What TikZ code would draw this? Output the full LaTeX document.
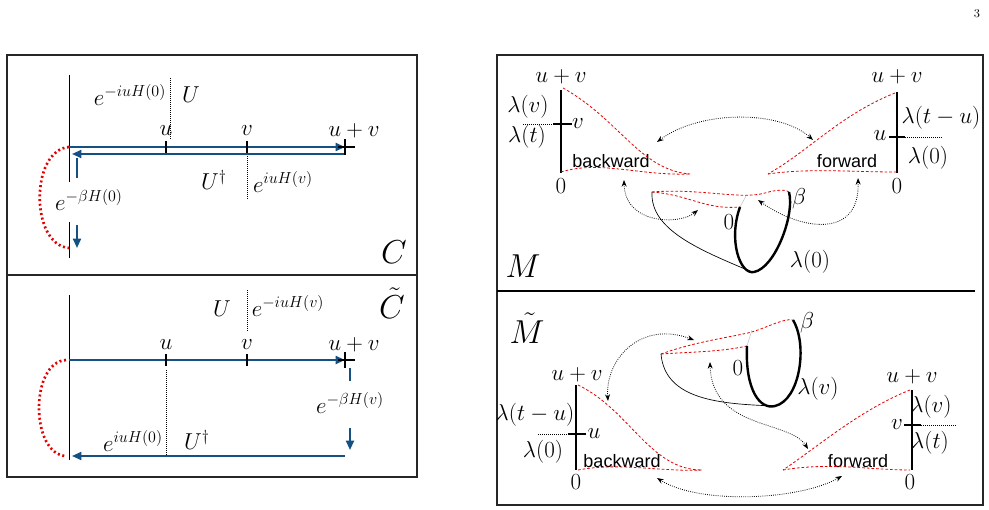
\documentclass[tikz,border=0pt]{standalone}
\usepackage{fontspec}
\newfontfamily\labsf{Liberation Sans}
\usetikzlibrary{arrows.meta}
\begin{document}
\begin{tikzpicture}[x=0.75pt,y=-0.75pt,
  bx/.style={draw=black!85,line width=1pt},
  blu/.style={draw={rgb,255:red,20;green,80;blue,130},line width=1.4pt},
  bar/.style={-{Triangle[length=7pt,width=6pt]}},
  tk/.style={line width=1.6pt},
  rdot/.style={draw=red!90!black,line width=2pt,dash pattern=on 1.5pt off 2pt},
  rdash/.style={draw=red!90!black,line width=0.6pt,dash pattern=on 2pt off 1.5pt},
  dt/.style={densely dotted,line width=0.5pt},
  darr/.style={densely dotted,line width=0.6pt,{Stealth[length=5pt]}-{Stealth[length=5pt]}},
  lbl/.style={inner sep=1pt,font=\fontsize{17}{19}\selectfont},
  big/.style={inner sep=0pt,font=\fontsize{27}{29}\selectfont},
  sf/.style={inner sep=1pt,font=\labsf\fontsize{13.5}{15}\selectfont}]
\useasboundingbox (0,0) rectangle (989,510);
\node[inner sep=1pt,font=\small] (pg) at (977,14) {3};
% ---------- left panel ----------
\draw[bx] (7,55) rectangle (417,477);
\draw[bx] (7,275) -- (417,275);
% C
\draw (69,75) -- (69,182); \draw (69,222) -- (69,258);
\coordinate (a0) at (69,147); \coordinate (a1) at (345,147);
\coordinate (b0) at (345,154); \coordinate (b1) at (72,154);
\coordinate (a2) at (69,248);
\draw[blu,bar] (a0) -- (a1);
\draw[blu,bar] (345,147) -- (b0) -- (b1);
\draw[blu] (77,158) -- (77,178);
\draw[blu,bar] (77,225) -- (77,248);
\draw[tk] (166,141) -- (166,153); \draw[tk] (247,141) -- (247,153);
\draw[thick] (345,139) -- (345,155); \draw[thick] (338,147) -- (355,147);
\draw[rdot] (a0) .. controls (30,150) and (30,245) .. (a2);
\draw[dt] (170,78) -- (170,140); \draw[dt] (247,156) -- (247,200);
\node[lbl] (n1) at (130,95) {$e^{-iuH(0)}$};
\node[lbl] (n2) at (191,95) {$U$};
\node[lbl] (n3) at (166,131) {$u$};
\node[lbl] (n4) at (247,131) {$v$};
\node[lbl] (n5) at (354,131) {$u+v$};
\node[lbl] (n6) at (214,180) {$U^\dagger$};
\node[lbl] (n7) at (283,182) {$e^{iuH(v)}$};
\node[lbl] (n8) at (89,200) {$e^{-\beta H(0)}$};
\node[big] (nC) at (394,252) {$C$};
% C tilde
\draw (69,295) -- (69,460);
\draw[blu,bar] (69,360) -- (345,360);
\draw[tk] (166,354) -- (166,366); \draw[tk] (247,354) -- (247,366);
\draw[thick] (345,352) -- (345,368); \draw[thick] (338,360) -- (355,360);
\draw[blu] (350,368) -- (350,381);
\draw[blu,bar] (350,428) -- (350,450);
\draw[blu,bar] (345,456) -- (72,456);
\draw[dt] (247,290) -- (247,332); \draw[dt] (166,370) -- (166,456);
\coordinate (c0) at (66,360); \coordinate (c1) at (66,456);
\draw[rdot] (c0) .. controls (30,362) and (30,454) .. (c1);
\node[lbl] (m1) at (222,309) {$U$};
\node[lbl] (m2) at (288,306) {$e^{-iuH(v)}$};
\node[lbl] (m3) at (166,345) {$u$};
\node[lbl] (m4) at (247,345) {$v$};
\node[lbl] (m5) at (354,345) {$u+v$};
\node[lbl] (m6) at (350,403) {$e^{-\beta H(v)}$};
\node[lbl] (m7) at (133,441) {$e^{iuH(0)}$};
\node[lbl] (m8) at (197,440) {$U^\dagger$};
\node[big] (nCt) at (392,303) {$\tilde C$};
% ---------- right panel ----------
\draw[bx] (497,55) rectangle (983,505);
\draw[line width=0.8pt] (497,291) -- (975,291);
\node[big,font=\fontsize{24}{26}\selectfont] (nM) at (523,266) {$M$};
\node[big,font=\fontsize{24}{26}\selectfont] (nMt) at (527,328) {$\tilde M$};
% M left axis
\draw[line width=1.8pt] (561,90) -- (561,173);
\draw[line width=1.8pt] (553,124) -- (572,124);
\draw[dt] (523,124) -- (553,124);
\node[lbl] (p1) at (561,77) {$u+v$};
\node[lbl] (p2) at (528,107) {$\lambda(v)$};
\node[lbl] (p3) at (527,137) {$\lambda(t)$};
\node[lbl] (p4) at (578,124) {$v$};
\node[lbl] (p5) at (561,186) {$0$};
\node[sf] (p6) at (611,161) {backward};
\draw[rdash] (563,88) .. controls (620,120) and (640,170) .. (690,174);
\draw[rdash] (561,172) .. controls (600,160) and (640,176) .. (690,174);
% M right axis
\draw[line width=1.8pt] (897,92) -- (897,173);
\draw[line width=1.8pt] (889,137) -- (905,137);
\draw[dt] (905,137) -- (943,137);
\node[lbl] (q1) at (897,77) {$u+v$};
\node[lbl] (q2) at (941,118) {$\lambda(t-u)$};
\node[lbl] (q3) at (928,158) {$\lambda(0)$};
\node[lbl] (q4) at (880,136) {$u$};
\node[lbl] (q5) at (897,186) {$0$};
\node[sf] (q6) at (847,161) {forward};
\draw[rdash] (895,93) .. controls (840,115) and (810,150) .. (768,174);
\draw[rdash] (768,174) .. controls (810,168) and (850,172) .. (897,172);
% M loop
\draw[rdash] (652,192) .. controls (700,188) and (740,200) .. (765,193) .. controls (775,190) and (785,189) .. (789,192);
\draw[rdash] (652,192) .. controls (690,195) and (705,210) .. (740,207);
\draw[black!30,line width=0.3pt] (740,207) -- (746,196);
\draw[line width=1.8pt] (740,207) .. controls (728,240) and (740,275) .. (754,272) .. controls (775,268) and (795,215) .. (789,192);
\draw[line width=0.5pt] (652,192) .. controls (650,230) and (700,250) .. (752,272);
\node[lbl] (r1) at (729,222) {$0$};
\node[lbl] (r2) at (799,199) {$\beta$};
\node[lbl] (r3) at (810,262) {$\lambda(0)$};
\draw[darr] (657,142) .. controls (700,110) and (780,110) .. (813,140);
\draw[darr] (624,180) .. controls (625,225) and (680,225) .. (698,210);
\draw[darr] (858,178) .. controls (860,240) and (800,230) .. (758,200);
% M tilde loop
\draw[rdash] (661,354) .. controls (700,340) and (740,336) .. (755,331) .. controls (770,326) and (785,318) .. (793,320);
\draw[rdash] (661,354) .. controls (690,352) and (720,352) .. (747,346);
\draw[black!30,line width=0.3pt] (747,346) -- (752,330);
\draw[line width=1.8pt] (747,346) .. controls (745,390) and (760,410) .. (775,406) .. controls (800,400) and (808,345) .. (793,320);
\draw[line width=0.5pt] (661,354) .. controls (665,400) and (720,404) .. (775,406);
\node[lbl] (s1) at (738,368) {$0$};
\node[lbl] (s2) at (807,323) {$\beta$};
\node[lbl] (s3) at (818,389) {$\lambda(v)$};
% M tilde left axis
\draw[line width=1.8pt] (576,385) -- (576,470);
\draw[line width=1.8pt] (568,434) -- (586,434);
\draw[dt] (538,434) -- (568,434);
\node[lbl] (t1) at (577,375) {$u+v$};
\node[lbl] (t2) at (535,415) {$\lambda(t-u)$};
\node[lbl] (t3) at (543,452) {$\lambda(0)$};
\node[lbl] (t4) at (594,434) {$u$};
\node[lbl] (t5) at (576,482) {$0$};
\node[sf] (t6) at (622,461) {backward};
\draw[rdash] (578,385) .. controls (630,410) and (650,470) .. (702,470);
\draw[rdash] (578,470) .. controls (620,462) and (660,472) .. (702,470);
% M tilde right axis
\draw[line width=1.8pt] (912,390) -- (912,470);
\draw[line width=1.8pt] (904,425) -- (921,425);
\draw[dt] (921,425) -- (957,425);
\node[lbl] (w1) at (912,377) {$u+v$};
\node[lbl] (w2) at (931,407) {$\lambda(v)$};
\node[lbl] (w3) at (930,443) {$\lambda(t)$};
\node[lbl] (w4) at (897,425) {$v$};
\node[lbl] (w5) at (910,482) {$0$};
\node[sf] (w6) at (858,461) {forward};
\draw[rdash] (910,390) .. controls (860,410) and (820,445) .. (783,470);
\draw[rdash] (783,470) .. controls (830,462) and (870,470) .. (910,470);
\draw[darr] (694,340) .. controls (640,320) and (605,360) .. (608,401);
\draw[darr] (710,362) .. controls (712,430) and (790,420) .. (808,449);
\draw[darr] (657,478) .. controls (700,505) and (800,500) .. (842,476);
\end{tikzpicture}
\end{document}
